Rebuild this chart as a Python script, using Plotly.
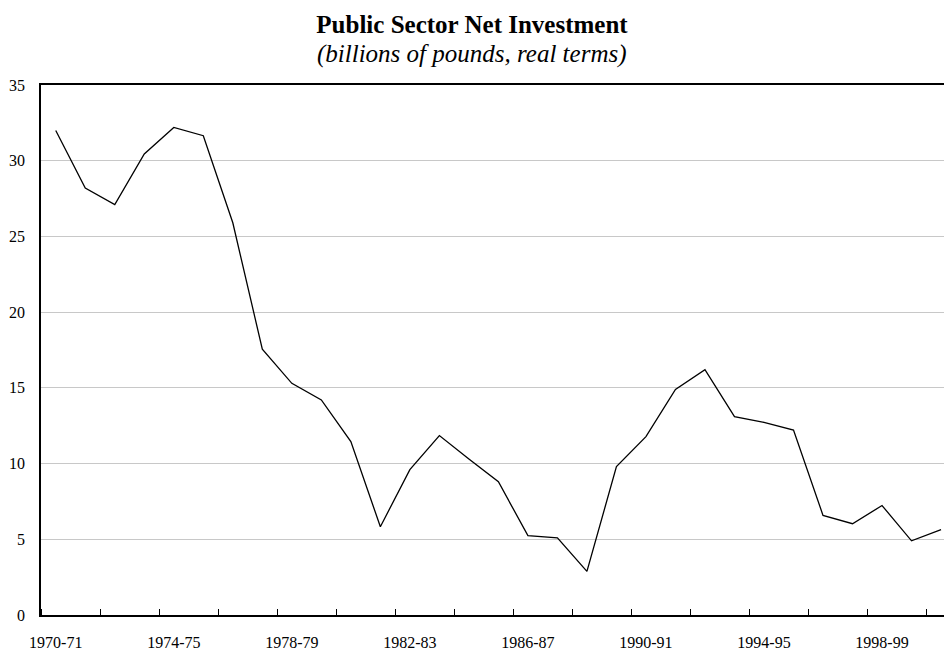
import plotly.graph_objects as go

years = ["1970-71", "1971-72", "1972-73", "1973-74", "1974-75", "1975-76", "1976-77",
         "1977-78", "1978-79", "1979-80", "1980-81", "1981-82", "1982-83", "1983-84",
         "1984-85", "1985-86", "1986-87", "1987-88", "1988-89", "1989-90", "1990-91",
         "1991-92", "1992-93", "1993-94", "1994-95", "1995-96", "1996-97", "1997-98",
         "1998-99", "1999-00", "2000-01"]
investment = [32.0, 28.2, 27.1, 30.45, 32.2, 31.65, 25.9,
              17.55, 15.3, 14.2, 11.45, 5.83, 9.6, 11.85,
              10.3, 8.8, 5.24, 5.09, 2.88, 9.8, 11.78,
              14.9, 16.2, 13.1, 12.72, 12.21, 6.58, 6.03,
              7.23, 4.9, 5.64]
label_years = ["1970-71", "1974-75", "1978-79", "1982-83", "1986-87", "1990-91",
               "1994-95", "1998-99"]
y_ticks = [0, 5, 10, 15, 20, 25, 30, 35]

idx = list(range(len(years)))
label_idx = [years.index(y) for y in label_years]

W, H = 944, 651
ML, MR, MT, MB = 41, 0, 85, 32

fig = go.Figure()
fig.add_trace(go.Scatter(
    x=idx, y=investment, mode="lines",
    line=dict(color="black", width=1.3),
    text=years, hovertemplate="%{text}: %{y}<extra></extra>",
    showlegend=False,
))

serif = "Liberation Serif"
plot_h = H - MT - MB
plot_w = W - ML - MR
fig.update_layout(
    width=W, height=H,
    margin=dict(l=ML, r=MR, t=MT, b=MB),
    paper_bgcolor="white", plot_bgcolor="white",
    font=dict(family=serif, size=16, color="black"),
    title=dict(
        text="<b>Public Sector Net Investment</b>",
        font=dict(family=serif, size=25, color="black"),
        x=0.5, xref="container", xanchor="center",
        y=1 - 24 / H, yref="container", yanchor="middle",
    ),
    annotations=[dict(
        text="<i>(billions of pounds, real terms)</i>",
        font=dict(family=serif, size=25, color="black"),
        xref="paper", yref="paper",
        x=(W / 2 - ML) / plot_w, y=1 + (MT - 54) / plot_h,
        xanchor="center", yanchor="middle", showarrow=False,
    )],
    xaxis=dict(
        range=[-0.5, 30.1], showgrid=False, zeroline=False,
        tickmode="array", tickvals=label_idx, ticktext=label_years,
        ticks="", ticklabelstandoff=12,
        showline=True, linecolor="black", linewidth=2, mirror=True,
        minor=dict(ticks="inside", ticklen=6, tickcolor="black", tickwidth=1.2,
                   tick0=-0.5, dtick=2, showgrid=False),
        tickfont=dict(family=serif, size=16, color="black"),
    ),
    yaxis=dict(
        range=[0, 35], tickmode="array", tickvals=y_ticks,
        showgrid=True, gridcolor="#c8c8c8", gridwidth=1, zeroline=False,
        showline=True, linecolor="black", linewidth=1.5,
        ticks="", ticklabelstandoff=11,
        tickfont=dict(family=serif, size=16, color="black"),
    ),
)

fig.write_html(
    "out.html",
    config={"displayModeBar": False},
    post_script="document.body.style.margin='0';document.body.style.overflow='hidden';",
)
